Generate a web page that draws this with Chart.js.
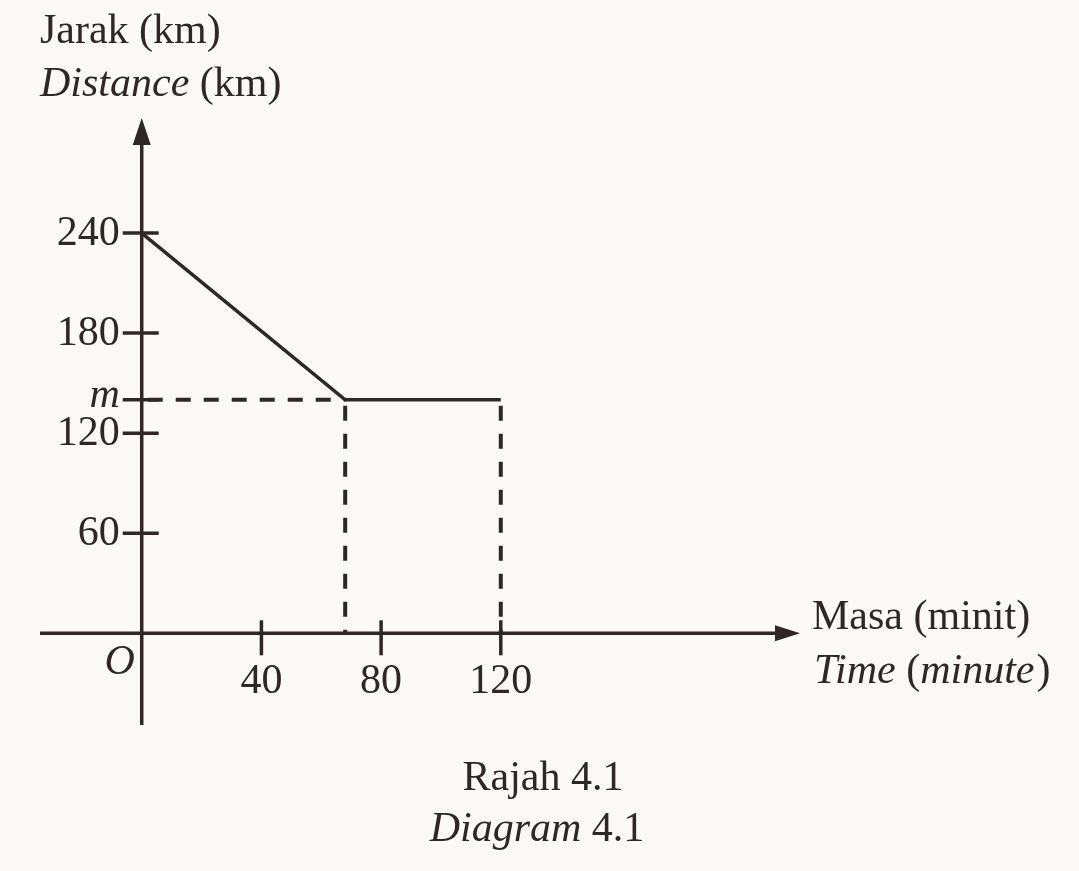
<!DOCTYPE html>
<html>
<head>
<meta charset="utf-8">
<script src="https://cdn.jsdelivr.net/npm/chart.js@4.4.1/dist/chart.umd.min.js"></script>
<style>
  html, body { margin: 0; padding: 0; background: #faf9f5; }
  #wrap { width: 1079px; height: 871px; position: relative; }
</style>
</head>
<body>
<div id="wrap"><canvas id="myChart"></canvas></div>
<script>
// DATA ----------------------------------------------------------------------
var timeMinutes = [0, 68, 120];          // Masa (minit)
var distanceKm  = [240, 140, 140];       // Jarak (km), m = 140
var mValue = 140;
var xTickValues = [40, 80, 120];
var yTickValues = [60, 120, 180, 240];
var xRange = [-34, 220];
var yRange = [-55, 309];

var INK = '#2f2727';
var FONT = '"Liberation Serif", "DejaVu Serif", serif';
var FS = 42;

function pts(xs, ys) {
  return xs.map(function(x, i) { return { x: x, y: ys[i] }; });
}

// AXES, TICKS AND TEXT ----------------------------------------------------------
var axesPlugin = {
  id: 'axesPlugin',
  beforeDatasetsDraw: function(chart) {
    var ctx = chart.ctx;
    var xs = chart.scales.x, ys = chart.scales.y;
    var area = chart.chartArea;
    var ox = xs.getPixelForValue(0), oy = ys.getPixelForValue(0);

    ctx.save();
    ctx.strokeStyle = INK;
    ctx.fillStyle = INK;
    ctx.lineWidth = 3.5;

    // x axis
    ctx.beginPath();
    ctx.moveTo(area.left, oy);
    ctx.lineTo(area.right - 18, oy);
    ctx.stroke();
    ctx.beginPath();
    ctx.moveTo(area.right, oy);
    ctx.lineTo(area.right - 25, oy - 8);
    ctx.lineTo(area.right - 25, oy + 8);
    ctx.closePath();
    ctx.fill();

    // y axis
    ctx.beginPath();
    ctx.moveTo(ox, area.bottom);
    ctx.lineTo(ox, area.top + 18);
    ctx.stroke();
    ctx.beginPath();
    ctx.moveTo(ox, area.top);
    ctx.lineTo(ox - 9, area.top + 27);
    ctx.lineTo(ox + 9, area.top + 27);
    ctx.closePath();
    ctx.fill();

    // tick marks
    xTickValues.forEach(function(v) {
      var px = xs.getPixelForValue(v);
      ctx.beginPath();
      ctx.moveTo(px, oy - 13);
      ctx.lineTo(px, oy + 22);
      ctx.stroke();
    });
    yTickValues.concat([mValue]).forEach(function(v) {
      var py = ys.getPixelForValue(v);
      ctx.beginPath();
      ctx.moveTo(ox - 19, py);
      ctx.lineTo(ox + 17, py);
      ctx.stroke();
    });

    // tick labels
    ctx.font = FS + 'px ' + FONT;
    ctx.textAlign = 'center';
    ctx.textBaseline = 'alphabetic';
    xTickValues.forEach(function(v) {
      ctx.fillText(String(v), xs.getPixelForValue(v), oy + 60);
    });
    ctx.textAlign = 'right';
    ctx.textBaseline = 'middle';
    yTickValues.forEach(function(v) {
      ctx.fillText(String(v), ox - 22, ys.getPixelForValue(v) + 1);
    });
    ctx.textBaseline = 'alphabetic';
    ctx.font = 'italic ' + FS + 'px ' + FONT;
    ctx.fillText('m', ox - 22, ys.getPixelForValue(mValue) + 7);
    ctx.textAlign = 'center';
    ctx.fillText('O', ox - 22, oy + 41);

    // axis titles
    ctx.textAlign = 'left';
    ctx.font = FS + 'px ' + FONT;
    ctx.fillText('Jarak (km)', 40, 43);
    ctx.font = 'italic ' + FS + 'px ' + FONT;
    ctx.fillText('Distance', 40, 96);
    var w = ctx.measureText('Distance ').width;
    ctx.font = FS + 'px ' + FONT;
    ctx.fillText('(km)', 40 + w, 96);

    ctx.fillText('Masa (minit)', area.right + 12, oy - 4);
    ctx.font = 'italic ' + FS + 'px ' + FONT;
    ctx.fillText('Time', area.right + 14, oy + 50);
    var w2 = ctx.measureText('Time ').width;
    ctx.font = FS + 'px ' + FONT;
    ctx.fillText('(', area.right + 14 + w2, oy + 50);
    var w3 = ctx.measureText('(').width;
    ctx.font = 'italic ' + FS + 'px ' + FONT;
    ctx.fillText('minute', area.right + 14 + w2 + w3, oy + 50);
    var w4 = ctx.measureText('minute').width;
    ctx.font = FS + 'px ' + FONT;
    ctx.fillText(')', area.right + 14 + w2 + w3 + w4 + 2, oy + 50);

    // caption
    ctx.textAlign = 'center';
    ctx.fillText('Rajah 4.1', 543, 790);
    ctx.textAlign = 'left';
    ctx.font = 'italic ' + FS + 'px ' + FONT;
    var wd = ctx.measureText('Diagram ').width;
    ctx.font = FS + 'px ' + FONT;
    var wn = ctx.measureText('4.1').width;
    var startX = 537 - (wd + wn) / 2;
    ctx.font = 'italic ' + FS + 'px ' + FONT;
    ctx.fillText('Diagram', startX, 841);
    ctx.font = FS + 'px ' + FONT;
    ctx.fillText('4.1', startX + wd, 841);

    ctx.restore();
  }
};

// CHART ---------------------------------------------------------------------
var dashStyle = { borderColor: INK, borderWidth: 4, borderDash: [15, 13], borderDashOffset: -6, pointRadius: 0, showLine: true, fill: false };

var ctx = document.getElementById('myChart').getContext('2d');
var chart = new Chart(ctx, {
  type: 'scatter',
  data: {
    datasets: [
      {
        label: 'Jarak',
        data: pts(timeMinutes, distanceKm),
        borderColor: INK,
        borderWidth: 3.5,
        pointRadius: 0,
        showLine: true,
        fill: false
      },
      Object.assign({ label: 'm', data: pts([0, timeMinutes[1]], [mValue, mValue]) }, dashStyle),
      Object.assign({ label: 't1', data: pts([timeMinutes[1], timeMinutes[1]], [mValue, 0]) }, dashStyle),
      Object.assign({ label: 't2', data: pts([timeMinutes[2], timeMinutes[2]], [mValue, 0]) }, dashStyle)
    ]
  },
  options: {
    responsive: true,
    maintainAspectRatio: false,
    animation: false,
    layout: { padding: { left: 40, right: 279, top: 118, bottom: 146 } },
    plugins: { legend: { display: false }, tooltip: { enabled: false } },
    scales: {
      x: { type: 'linear', min: xRange[0], max: xRange[1], display: false },
      y: { type: 'linear', min: yRange[0], max: yRange[1], display: false }
    }
  },
  plugins: [axesPlugin]
});
</script>
</body>
</html>
